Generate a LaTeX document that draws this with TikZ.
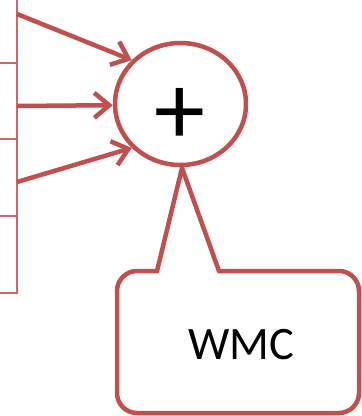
\documentclass[tikz,border=0pt]{standalone}
\usepackage{fontspec}
\setmainfont{Carlito}
\usetikzlibrary{shapes.geometric,arrows.meta}
\definecolor{accentred}{HTML}{C0504D}
\tikzset{
  tableline/.style={draw=accentred!85, line width=1.6pt},
  feed/.style={draw=accentred, line width=4.5pt,
    -{Straight Barb[length=15pt,width=25pt]}},
  sumnode/.style={ellipse, draw=accentred, line width=4.5pt, fill=white,
    minimum width=131pt, minimum height=122pt, inner sep=0pt},
  calloutline/.style={draw=accentred, line width=4.5pt, line cap=round, line join=round},
}
\begin{document}
\begin{tikzpicture}[x=1pt, y=-1pt]
  \useasboundingbox (0,0) rectangle (362,416);

  % edge of the table on the left
  \draw[tableline] (17,0) -- (17,293) -- (0,293);
  \draw[tableline] (0,63) -- (17,63);
  \draw[tableline] (0,139) -- (17,139);
  \draw[tableline] (0,216) -- (17,216);

  \coordinate (s1) at (17,14);
  \coordinate (s2) at (17,106);
  \coordinate (s3) at (17,182);

  % callout box with its pointer
  \draw[calloutline, rounded corners=20pt]
    (219,271) -- (359,271) -- (359,413) -- (117,413) -- (117,271) -- (157,271);
  \draw[calloutline, line join=miter] (157,271) -- (182,168) -- (219,271);
  \node[font=\fontsize{46.5}{50}\selectfont] (wmc) at (241,345) {WMC};

  % summing node
  \node[sumnode] (sum) at (180.5,104) {};
  \node[font=\fontsize{102}{102}\selectfont, inner sep=0pt] (plus) at (180,116) {+};

  \draw[feed] (s1) -- (sum.138.5);
  \draw[feed] (s2) -- (sum.181.5);
  \draw[feed] (s3) -- (sum.222);
\end{tikzpicture}
\end{document}
